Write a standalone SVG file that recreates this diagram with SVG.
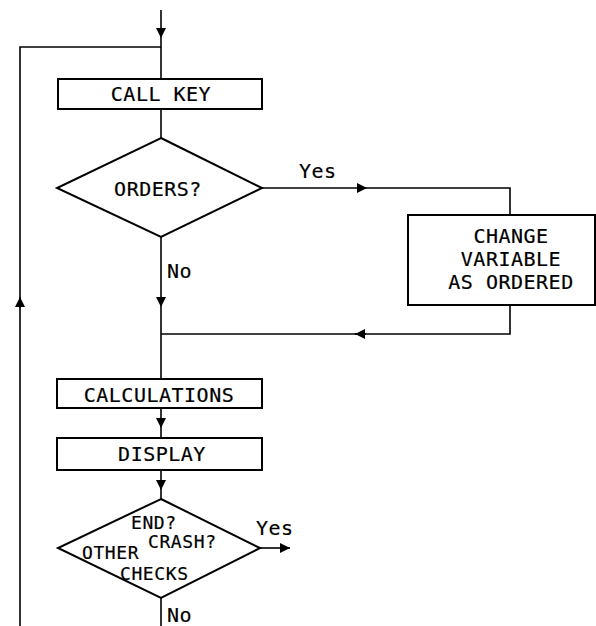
<svg xmlns="http://www.w3.org/2000/svg" width="596" height="626" viewBox="0 0 596 626">
  <style>
    .shape { fill: #fff; stroke: #000; stroke-width: 2; }
    .wire { fill: none; stroke: #000; stroke-width: 1.6; }
    .lbl { font-family: "DejaVu Sans Mono", "Liberation Mono", monospace; font-size: 20px; letter-spacing: 0.5px; fill: #000; stroke: #000; stroke-width: 0.2; }
    .sm { font-size: 18px; letter-spacing: 0.6px; }
    .mid { text-anchor: middle; }
  </style>
  <defs>
    <marker id="arrow" markerWidth="10" markerHeight="10" refX="10" refY="5" orient="auto" markerUnits="userSpaceOnUse">
      <path d="M0,0 L10,5 L0,10 Z" fill="#000"/>
    </marker>
  </defs>
  <rect width="596" height="626" fill="#fff"/>

  <g id="connectors">
    <!-- entry line and loop return -->
    <line class="wire" x1="161" y1="10" x2="161" y2="38" marker-end="url(#arrow)"/>
    <line class="wire" x1="161" y1="38" x2="161" y2="79"/>
    <polyline class="wire" points="161,47 20,47 20,626"/>
    <line class="wire" x1="20" y1="308" x2="20" y2="297" marker-end="url(#arrow)"/>
    <!-- CALL KEY to ORDERS? -->
    <line class="wire" x1="161" y1="109" x2="161" y2="138"/>
    <!-- Yes branch -->
    <line class="wire" x1="262" y1="188" x2="367" y2="188" marker-end="url(#arrow)"/>
    <polyline class="wire" points="367,188 510,188 510,215"/>
    <polyline class="wire" points="510,305 510,334 355,334"/>
    <line class="wire" x1="366" y1="334" x2="355" y2="334" marker-end="url(#arrow)"/>
    <line class="wire" x1="355" y1="334" x2="161" y2="334"/>
    <!-- No branch -->
    <line class="wire" x1="161" y1="237" x2="161" y2="307" marker-end="url(#arrow)"/>
    <line class="wire" x1="161" y1="307" x2="161" y2="379"/>
    <!-- CALCULATIONS to DISPLAY -->
    <line class="wire" x1="161" y1="408" x2="161" y2="428" marker-end="url(#arrow)"/>
    <line class="wire" x1="161" y1="428" x2="161" y2="438"/>
    <!-- DISPLAY to checks -->
    <line class="wire" x1="161" y1="470" x2="161" y2="490" marker-end="url(#arrow)"/>
    <line class="wire" x1="161" y1="490" x2="161" y2="499"/>
    <!-- checks exits -->
    <line class="wire" x1="260" y1="548" x2="290" y2="548" marker-end="url(#arrow)"/>
    <line class="wire" x1="161" y1="598" x2="161" y2="626"/>
    <text class="lbl" x="299" y="178">Yes</text>
    <text class="lbl" x="167" y="278">No</text>
    <text class="lbl" x="256" y="535">Yes</text>
    <text class="lbl" x="167" y="622">No</text>
  </g>

  <g id="call-key">
    <rect class="shape" x="58" y="79" width="204" height="30"/>
    <text class="lbl mid" x="161" y="101">CALL KEY</text>
  </g>

  <g id="orders">
    <polygon class="shape" points="161,138 262,188 161,237 57,188"/>
    <text class="lbl mid" x="158" y="196">ORDERS?</text>
  </g>

  <g id="change-variable">
    <rect class="shape" x="408" y="215" width="187" height="90"/>
    <text class="lbl mid" x="511" y="243">CHANGE</text>
    <text class="lbl mid" x="511" y="266">VARIABLE</text>
    <text class="lbl mid" x="511" y="289">AS ORDERED</text>
  </g>

  <g id="calculations">
    <rect class="shape" x="57" y="379" width="205" height="29"/>
    <text class="lbl mid" x="159" y="402">CALCULATIONS</text>
  </g>

  <g id="display">
    <rect class="shape" x="57" y="438" width="205" height="32"/>
    <text class="lbl mid" x="162" y="461">DISPLAY</text>
  </g>

  <g id="checks">
    <polygon class="shape" points="161,499 260,548 161,598 58,548"/>
    <text class="lbl sm" x="131" y="529">END?</text>
    <text class="lbl sm" x="148" y="548">CRASH?</text>
    <text class="lbl sm" x="82" y="559">OTHER</text>
    <text class="lbl sm" x="120" y="580">CHECKS</text>
  </g>
</svg>
